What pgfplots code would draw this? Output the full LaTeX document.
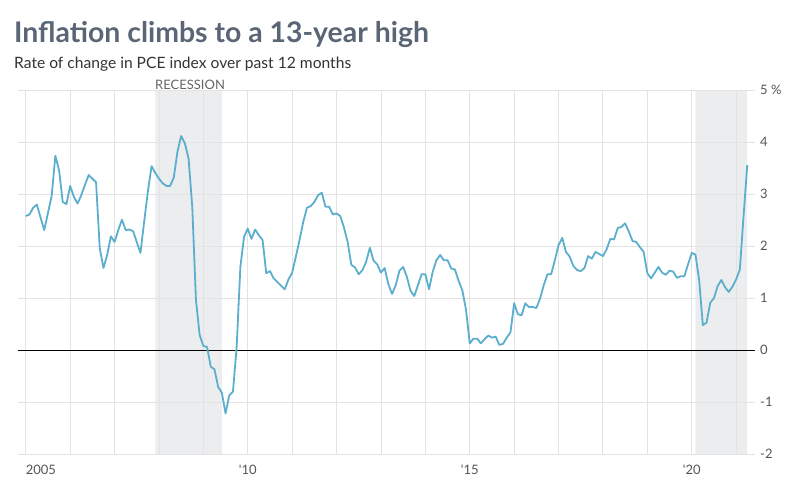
\documentclass[border=0pt]{standalone}
\usepackage{pgfplots}
\pgfplotsset{compat=1.18}
\usepackage{pgfplotstable}
\usepackage{fontspec}
\setmainfont{Lato}[Ligatures=TeXOff]
\definecolor{titlecol}{HTML}{5A6576}
\definecolor{subcol}{HTML}{333333}
\definecolor{tickcol}{HTML}{555555}
\definecolor{linecol}{HTML}{5BAFCD}
\definecolor{reccol}{HTML}{ECEDEF}
\definecolor{gridcol}{HTML}{E3E3E3}
\pgfplotstableread{
m v
0 2.58
1 2.61
2 2.74
3 2.80
4 2.55
5 2.31
6 2.64
7 2.97
8 3.74
9 3.46
10 2.85
11 2.81
12 3.16
13 2.95
14 2.82
15 2.98
16 3.18
17 3.37
18 3.30
19 3.23
20 1.96
21 1.58
22 1.83
23 2.19
24 2.08
25 2.31
26 2.51
27 2.31
28 2.32
29 2.29
30 2.08
31 1.87
32 2.47
33 3.05
34 3.54
35 3.41
36 3.30
37 3.21
38 3.16
39 3.16
40 3.32
41 3.82
42 4.12
43 3.98
44 3.69
45 2.76
46 0.96
47 0.29
48 0.08
49 0.06
50 -0.32
51 -0.37
52 -0.71
53 -0.82
54 -1.22
55 -0.87
56 -0.80
57 0.06
58 1.60
59 2.18
60 2.34
61 2.14
62 2.32
63 2.21
64 2.12
65 1.48
66 1.52
67 1.38
68 1.31
69 1.24
70 1.17
71 1.36
72 1.49
73 1.80
74 2.12
75 2.47
76 2.74
77 2.77
78 2.85
79 2.98
80 3.03
81 2.76
82 2.76
83 2.61
84 2.63
85 2.58
86 2.36
87 2.08
88 1.64
89 1.59
90 1.46
91 1.54
92 1.70
93 1.97
94 1.72
95 1.65
96 1.49
97 1.58
98 1.27
99 1.08
100 1.25
101 1.53
102 1.60
103 1.41
104 1.14
105 1.04
106 1.25
107 1.46
108 1.46
109 1.17
110 1.51
111 1.73
112 1.83
113 1.73
114 1.73
115 1.57
116 1.55
117 1.33
118 1.15
119 0.77
120 0.13
121 0.22
122 0.22
123 0.13
124 0.21
125 0.28
126 0.24
127 0.26
128 0.10
129 0.12
130 0.24
131 0.34
132 0.90
133 0.69
134 0.67
135 0.90
136 0.83
137 0.83
138 0.81
139 0.99
140 1.25
141 1.46
142 1.46
143 1.73
144 2.02
145 2.16
146 1.89
147 1.80
148 1.62
149 1.54
150 1.52
151 1.58
152 1.81
153 1.76
154 1.89
155 1.85
156 1.81
157 1.94
158 2.14
159 2.13
160 2.35
161 2.37
162 2.44
163 2.28
164 2.10
165 2.08
166 1.98
167 1.89
168 1.48
169 1.38
170 1.49
171 1.60
172 1.49
173 1.45
174 1.53
175 1.51
176 1.39
177 1.42
178 1.42
179 1.65
180 1.87
181 1.84
182 1.35
183 0.48
184 0.53
185 0.91
186 1.00
187 1.23
188 1.35
189 1.21
190 1.12
191 1.22
192 1.36
193 1.55
194 2.57
195 3.56
}\pce
\begin{document}
\begin{tikzpicture}
\node[anchor=base west, inner sep=0pt, text=titlecol, font=\fontsize{28.4bp}{33bp}\selectfont\bfseries] at (14bp,-42.7bp) {Inflation climbs to a 13-year high};
\node[anchor=base west, inner sep=0pt, text=subcol, font=\fontsize{15.6bp}{19bp}\selectfont] at (14bp,-68bp) {Rate of change in PCE index over past 12 months};
\begin{axis}[
  set layers=standard,
  at={(18bp,-454bp)}, anchor=south west,
  scale only axis, width=737bp, height=363.7bp,
  xmin=-2.1, xmax=197.1, ymin=-2, ymax=5,
  axis line style={draw=none},
  major tick length=0pt,
  xtick={0,12,...,192},
  xticklabels={\makebox[0pt][l]{2005},,,,,'10,,,,,'15,,,,,'20,},
  ytick={-2,-1,0,1,2,3,4,5},
  yticklabels={-2,-1,0,1,2,3,4,{5 \%}},
  yticklabel pos=right,
  grid=major,
  grid style={draw=gridcol, line width=0.9bp},
  xticklabel style={font=\fontsize{13bp}{15bp}\selectfont, text=tickcol, anchor=base, inner sep=0pt, yshift=-20.3bp},
  yticklabel style={font=\fontsize{13bp}{15bp}\selectfont, text=tickcol, anchor=west, inner sep=0pt, xshift=5bp},
  extra y ticks={0},
  extra y tick labels={},
  extra y tick style={grid style={draw=black, line width=0.9bp}},
  clip=false,
]
\addplot[on layer=axis background, fill=reccol, draw=none] coordinates {(35,-2) (35,5) (53,5) (53,-2) (35,-2)};
\addplot[on layer=axis background, fill=reccol, draw=none] coordinates {(181,-2) (181,5) (195,5) (195,-2) (181,-2)};
\addplot[color=linecol, line width=1.8bp, line join=round] table[x=m, y=v] {\pce};
\end{axis}
\node[anchor=base west, inner sep=0pt, text=tickcol!90, font=\fontsize{13bp}{15bp}\selectfont] at (155bp,-89.3bp) {RECESSION};
\path (0,0) rectangle (794bp,-492bp);
\end{tikzpicture}
\end{document}
